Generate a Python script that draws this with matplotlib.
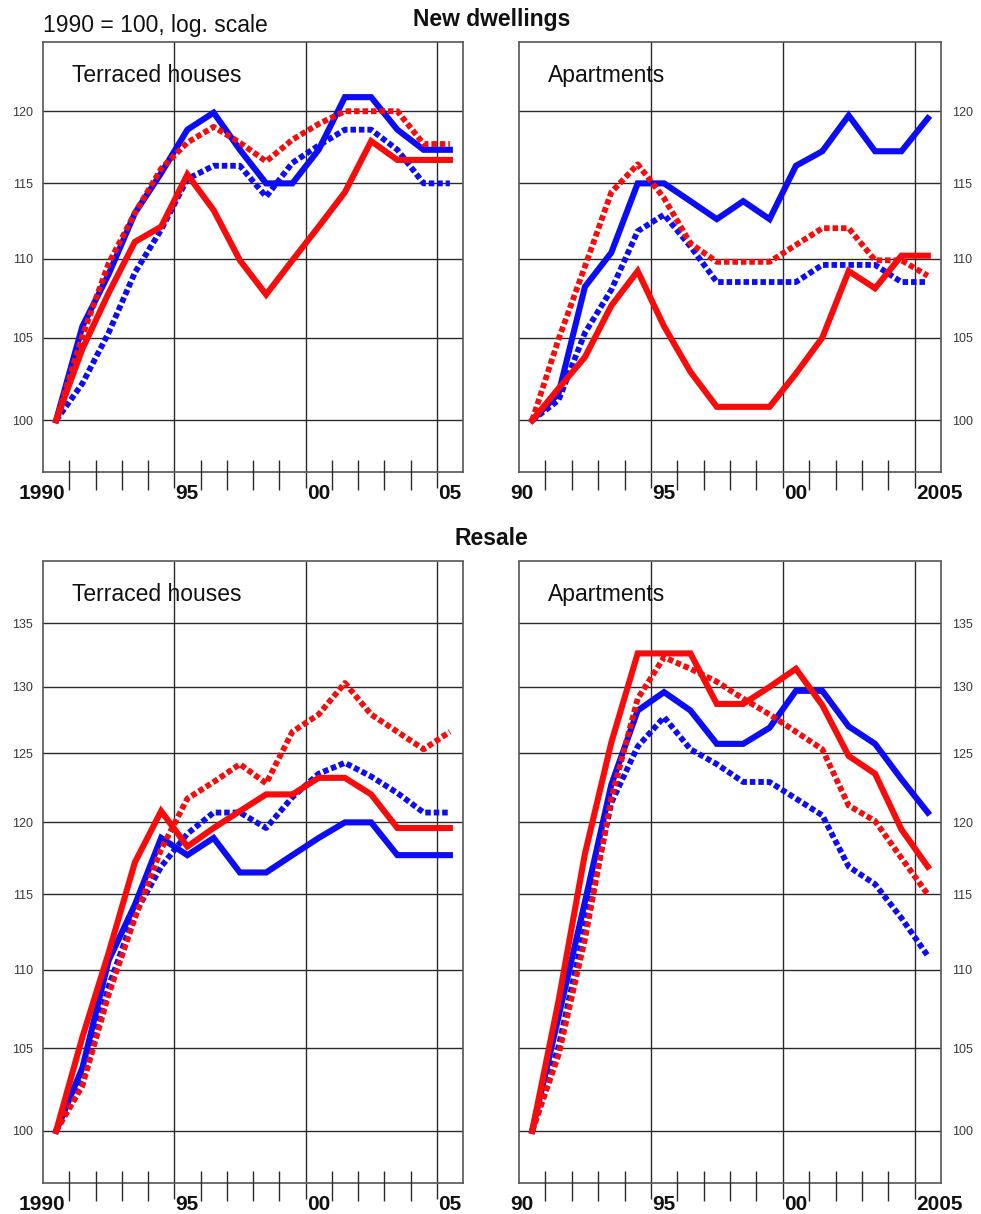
import matplotlib
matplotlib.use('Agg')
import matplotlib.pyplot as plt
import matplotlib.transforms as mtransforms
from matplotlib.ticker import FixedLocator, FixedFormatter, NullLocator
import numpy as np

plt.rcParams['font.family'] = ['Liberation Sans', 'DejaVu Sans']

W, H, DPI = 981, 1214, 100

years = list(range(1990, 2006))

# ---- New dwellings, terraced houses ----
nt_blue_solid = [100, 105.7, 109.0, 113.0, 115.7, 118.7, 119.9, 117.3, 115.0, 115.0, 117.3, 121.0, 121.0, 118.7, 117.3, 117.3]
nt_blue_dot = [100, 102.2, 105.3, 109.1, 111.9, 115.3, 116.2, 116.2, 114.1, 116.4, 117.6, 118.7, 118.7, 117.3, 115.0, 115.0]
nt_red_solid = [100, 104.3, 107.8, 111.1, 112.1, 115.6, 113.2, 109.9, 107.7, 109.9, 112.1, 114.4, 117.9, 116.6, 116.6, 116.6]
nt_red_dot = [100, 105.1, 109.7, 113.0, 116.0, 117.8, 118.9, 117.8, 116.5, 118.0, 119.1, 120.0, 120.0, 120.0, 117.7, 117.7]

# ---- New dwellings, apartments ----
na_blue_solid = [100, 101.6, 108.2, 110.4, 115.0, 115.0, 113.8, 112.6, 113.8, 112.6, 116.2, 117.2, 119.7, 117.2, 117.2, 119.5]
na_blue_dot = [100, 101.2, 105.3, 108.0, 111.8, 112.9, 110.8, 108.5, 108.5, 108.5, 108.5, 109.6, 109.6, 109.6, 108.5, 108.5]
na_red_solid = [100, 101.9, 103.8, 107.0, 109.2, 105.7, 102.9, 100.8, 100.8, 100.8, 102.8, 105.0, 109.2, 108.1, 110.2, 110.2]
na_red_dot = [100, 104.9, 109.5, 114.4, 116.3, 114.0, 111.0, 109.8, 109.8, 109.8, 110.9, 112.0, 112.0, 109.9, 109.9, 108.9]

# ---- Resale, terraced houses ----
rt_blue_solid = [100, 103.8, 110.6, 114.3, 118.9, 117.7, 118.9, 116.5, 116.5, 117.7, 118.9, 120.0, 120.0, 117.7, 117.7, 117.7]
rt_blue_dot = [100, 103.0, 108.9, 113.7, 116.9, 119.2, 120.7, 120.7, 119.6, 121.8, 123.5, 124.3, 123.3, 122.1, 120.7, 120.7]
rt_red_solid = [100, 105.7, 111.1, 117.2, 120.8, 118.3, 119.6, 120.8, 122.0, 122.0, 123.2, 123.2, 122.0, 119.6, 119.6, 119.6]
rt_red_dot = [100, 102.7, 108.4, 113.4, 118.1, 121.7, 122.9, 124.2, 122.8, 126.6, 127.9, 130.3, 127.9, 126.6, 125.3, 126.6]

# ---- Resale, apartments ----
ra_blue_solid = [100, 107.0, 114.5, 122.7, 128.2, 129.6, 128.2, 125.7, 125.7, 126.9, 129.7, 129.7, 127.0, 125.7, 123.1, 120.7]
ra_blue_dot = [100, 105.1, 112.8, 121.4, 125.5, 127.7, 125.3, 124.2, 122.9, 122.9, 121.7, 120.5, 116.9, 115.7, 113.4, 110.9]
ra_red_solid = [100, 108.0, 117.8, 125.8, 132.6, 132.6, 132.6, 128.7, 128.7, 130.0, 131.4, 128.6, 124.8, 123.5, 119.5, 116.9]
ra_red_dot = [100, 104.6, 112.0, 121.7, 129.1, 132.3, 131.4, 130.4, 129.1, 127.9, 126.6, 125.3, 121.2, 120.1, 117.5, 115.0]

top_yticks = [100, 105, 110, 115, 120]
bot_yticks = [100, 105, 110, 115, 120, 125, 130, 135]
left_xlabels = ['1990', '95', '00', '05']
right_xlabels = ['90', '95', '00', '2005']

BLUE = '#0c0cf5'
RED = '#f70c0c'
GRID = '#2a2a2a'

fig = plt.figure(figsize=(W / DPI, H / DPI), dpi=DPI)
fig.patch.set_facecolor('white')


def add_ax(x0, y0, x1, y1):
    return fig.add_axes([x0 / W, 1 - y1 / H, (x1 - x0) / W, (y1 - y0) / H])


def px_text(x, y, s, **kw):
    fig.text(x / W, 1 - y / H, s, **kw)


def setup(ax, ylim, yticks, side, xlabels, label_specs, height_px):
    ax.set_yscale('log')
    ax.set_xlim(1990, 2006)
    ax.set_ylim(*ylim)
    ax.yaxis.set_major_locator(FixedLocator(yticks))
    ax.yaxis.set_major_formatter(FixedFormatter([str(t) for t in yticks]))
    ax.yaxis.set_minor_locator(NullLocator())
    ax.xaxis.set_major_locator(FixedLocator([1995, 2000, 2005]))
    ax.xaxis.set_minor_locator(NullLocator())
    ax.tick_params(axis='x', which='major', direction='out', length=11.5,
                   width=1.0, color=GRID, labelbottom=False)
    if side == 'left':
        ax.tick_params(axis='y', length=0, pad=7, labelsize=9, labelcolor='#3a3a3a',
                       labelleft=True, labelright=False)
    else:
        ax.tick_params(axis='y', length=0, pad=8, labelsize=9, labelcolor='#3a3a3a',
                       labelleft=False, labelright=True)
    ax.grid(True, which='major', color=GRID, linewidth=1.0)
    ax.set_axisbelow(True)
    for sp in ax.spines.values():
        sp.set_color('#555555')
        sp.set_linewidth(1.2)
    # minor year ticks crossing the bottom spine
    minor_years = [y for y in range(1991, 2005) if y % 5 != 0]
    ax.vlines(minor_years, -18 / height_px, 12 / height_px,
              transform=ax.get_xaxis_transform(), colors=GRID,
              linewidth=1.0, clip_on=False, zorder=5)
    # year labels
    trans = mtransforms.offset_copy(ax.get_xaxis_transform(), fig=fig,
                                    y=-12, units='dots')
    for lab, (xpos, ha) in zip(xlabels, label_specs):
        ax.text(xpos, 0, lab, transform=trans, ha=ha, va='top',
                fontsize=15, fontweight='bold', color='#111111')


def draw(ax, bs, bd, rs, rd):
    x = np.array(years) + 0.5
    lw_s = 4.4
    lw_d = 4.2
    ax.plot(x, bs, color=BLUE, lw=lw_s, solid_joinstyle='miter', zorder=3)
    ax.plot(x, bd, color=BLUE, lw=lw_d, linestyle=(0, (0.95, 0.5)),
            dash_capstyle='butt', zorder=3)
    ax.plot(x, rs, color=RED, lw=lw_s, solid_joinstyle='miter', zorder=3)
    ax.plot(x, rd, color=RED, lw=lw_d, linestyle=(0, (0.95, 0.5)),
            dash_capstyle='butt', zorder=3)


left_specs = [(1990.85, 'right'), (1995.5, 'center'), (2000.5, 'center'), (2005.5, 'center')]
right_specs = [(1990.55, 'right'), (1995.5, 'center'), (2000.5, 'center'), (2005.05, 'left')]

ax_tl = add_ax(43, 42, 463, 472)
ax_tr = add_ax(519, 42, 941, 472)
ax_bl = add_ax(43, 561.5, 463, 1182.5)
ax_br = add_ax(519, 561.5, 941, 1182.5)

setup(ax_tl, (97, 125), top_yticks, 'left', left_xlabels, left_specs, 430)
setup(ax_tr, (97, 125), top_yticks, 'right', right_xlabels, right_specs, 430)
setup(ax_bl, (97, 140), bot_yticks, 'left', left_xlabels, left_specs, 621)
setup(ax_br, (97, 140), bot_yticks, 'right', right_xlabels, right_specs, 621)

draw(ax_tl, nt_blue_solid, nt_blue_dot, nt_red_solid, nt_red_dot)
draw(ax_tr, na_blue_solid, na_blue_dot, na_red_solid, na_red_dot)
draw(ax_bl, rt_blue_solid, rt_blue_dot, rt_red_solid, rt_red_dot)
draw(ax_br, ra_blue_solid, ra_blue_dot, ra_red_solid, ra_red_dot)

# texts
px_text(43, 32, '1990 = 100, log. scale', fontsize=16.5, va='baseline', ha='left', color='#111111')
px_text(492, 26, 'New dwellings', fontsize=16.5, fontweight='bold', va='baseline', ha='center', color='#111111')
px_text(491, 545, 'Resale', fontsize=16.5, fontweight='bold', va='baseline', ha='center', color='#111111')
px_text(72, 81.7, 'Terraced houses', fontsize=16.5, va='baseline', ha='left', color='#111111')
px_text(548, 81.7, 'Apartments', fontsize=16.5, va='baseline', ha='left', color='#111111')
px_text(72, 600.7, 'Terraced houses', fontsize=16.5, va='baseline', ha='left', color='#111111')
px_text(548, 600.7, 'Apartments', fontsize=16.5, va='baseline', ha='left', color='#111111')

fig.savefig('out.png', dpi=DPI, facecolor='white')
